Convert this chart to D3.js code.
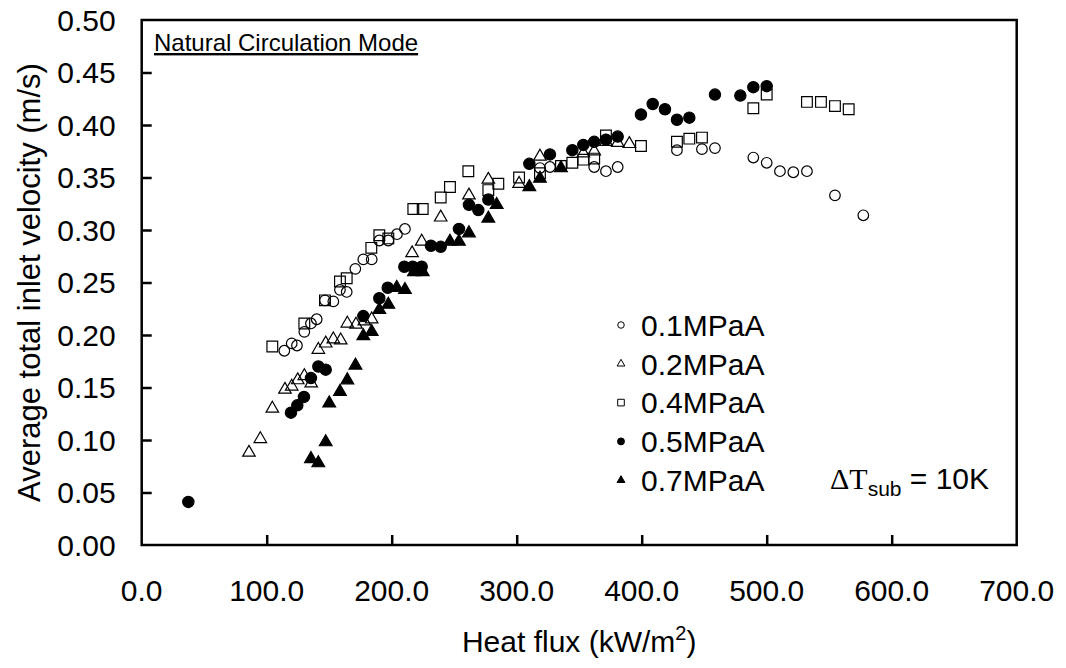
<!DOCTYPE html>
<html>
<head>
<meta charset="utf-8">
<script src="https://cdn.jsdelivr.net/npm/d3@7"></script>
<style>
  body { margin: 0; background: #fff; }
  text { font-family: "Liberation Sans", Arial, sans-serif; }
</style>
</head>
<body>
<div class="chart"></div>
<script>
// data: [heat flux kW/m2, velocity m/s]
let p01 = [[114.1,0.185],[120,0.192],[124.2,0.190],[130.1,0.203],[135.4,0.211],[140,0.215],[146.6,0.233],[153.3,0.232],
  [158.6,0.243],[164,0.241],[170.9,0.263],[177.3,0.272],[184,0.272],[190.1,0.290],[197.3,0.290],[204.2,0.296],[210.6,0.301],
  [318.6,0.359],[326.6,0.360],[362,0.360],[371.4,0.356],[380.8,0.360],[428.2,0.376],[448.2,0.377],[458.6,0.378],
  [489.3,0.369],[500,0.364],[510.6,0.356],[521.3,0.355],[532.2,0.356],[554.6,0.333],[577.3,0.314]]
let p02 = [[85.8,0.088],[94.9,0.101],[104.5,0.130],[114.6,0.148],[120,0.151],[124.8,0.157],[130.1,0.161],[135.6,0.154],
  [141.3,0.186],[147.2,0.192],[153.3,0.196],[159.2,0.195],[164.5,0.211],[171.4,0.210],[178.1,0.213],[184,0.215],
  [216.3,0.278],[224,0.289],[239.2,0.312],[261.8,0.333],[277.3,0.348],[301.9,0.344],[318.6,0.370],[353.3,0.373],
  [362,0.375],[371.4,0.384],[380.8,0.383],[390.1,0.382]]
let p04 = [[104.5,0.189],[130.1,0.211],[146.6,0.233],[158.6,0.251],[164,0.254],[183.7,0.283],[190.1,0.295],[197.3,0.292],
  [217.3,0.320],[224.8,0.320],[239.2,0.331],[246.6,0.341],[261.3,0.356],[277.3,0.338],[285.3,0.344],[301.9,0.350],
  [318.6,0.354],[335.4,0.361],[344.5,0.364],[353.3,0.367],[362,0.368],[371.4,0.390],[399.4,0.380],[428.2,0.384],
  [438.1,0.387],[448.2,0.388],[489.3,0.416],[500,0.429],[532.2,0.422],[543.4,0.422],[554.6,0.418],[565.6,0.415]]
let p05 = [[37.3,0.041],[119.4,0.126],[124.5,0.133],[129.8,0.141],[135.4,0.159],[141.3,0.170],[147.2,0.167],[177.3,0.218],
  [190.1,0.235],[196.8,0.245],[210.1,0.265],[216.8,0.265],[224,0.265],[231.4,0.285],[239.2,0.284],[253.8,0.301],
  [261.8,0.324],[269.3,0.319],[277.3,0.329],[310.1,0.363],[326.6,0.372],[344.5,0.376],[353.3,0.381],[362,0.384],
  [371.4,0.386],[380.8,0.389],[399.4,0.410],[408.8,0.420],[418.6,0.415],[428.2,0.405],[438.1,0.407],[458.6,0.429],
  [478.9,0.428],[489.3,0.436],[500,0.437]]
let p07 = [[135.4,0.082],[141.3,0.078],[147.2,0.098],[150,0.135],[158.6,0.146],[164.5,0.157],[171,0.171],[177.3,0.199],
  [184,0.203],[190.1,0.224],[197.3,0.229],[204,0.245],[210.6,0.243],[217.8,0.260],[224.8,0.260],[246.6,0.289],
  [253.8,0.289],[261.8,0.297],[277.3,0.311],[284,0.324],[310.1,0.341],[318.6,0.349],[335.4,0.359]]

let seriesNames = ["0.1MPaA", "0.2MPaA", "0.4MPaA", "0.5MPaA", "0.7MPaA"]
let xTicks = [0, 100, 200, 300, 400, 500, 600, 700]
let yTicks = [0, 0.05, 0.10, 0.15, 0.20, 0.25, 0.30, 0.35, 0.40, 0.45, 0.50]

let width = 1066
let height = 668
let margin = {left: 141.7, top: 20, right: 49.3, bottom: 123}

let svg = d3.select(".chart")
    .append("svg")
    .attr("width", width)
    .attr("height", height)

let x = d3.scaleLinear().domain([0, 700]).range([margin.left, width - margin.right])
let y = d3.scaleLinear().domain([0, 0.5]).range([height - margin.bottom, margin.top])

// marker styles for each series
let styles = [
    {type: d3.symbolCircle, size: 88, fill: "none"},
    {type: d3.symbolTriangle, size: 68, fill: "none"},
    {type: d3.symbolSquare, size: 115, fill: "none"},
    {type: d3.symbolCircle, size: 100, fill: "#000"},
    {type: d3.symbolTriangle, size: 70, fill: "#000"}
]
let allData = [p01, p02, p04, p05, p07]

// axes, ticks pointing inside
let xAxis = d3.axisTop(x).tickValues(xTicks.slice(1, -1)).tickSize(10).tickFormat("")
let yAxis = d3.axisRight(y).tickValues(yTicks.slice(1, -1)).tickSize(10).tickFormat("")

svg.append("g")
    .attr("transform", "translate(0," + y(0) + ")")
    .call(xAxis)
    .call(g => g.select(".domain").remove())
    .selectAll("line").attr("stroke", "#000").attr("stroke-width", 2.5)

svg.append("g")
    .attr("transform", "translate(" + x(0) + ",0)")
    .call(yAxis)
    .call(g => g.select(".domain").remove())
    .selectAll("line").attr("stroke", "#000").attr("stroke-width", 2.5)

svg.append("rect")
    .attr("x", x(0))
    .attr("y", y(0.5))
    .attr("width", x(700) - x(0))
    .attr("height", y(0) - y(0.5))
    .attr("fill", "none")
    .attr("stroke", "#000")
    .attr("stroke-width", 2.5)

// tick labels
svg.selectAll(".xlab")
    .data(xTicks)
    .enter()
    .append("text")
    .attr("x", d => x(d))
    .attr("y", y(0) + 56)
    .attr("text-anchor", "middle")
    .style("font-size", "30px")
    .text(d => d3.format(".1f")(d))

svg.selectAll(".ylab")
    .data(yTicks)
    .enter()
    .append("text")
    .attr("x", x(0) - 26)
    .attr("y", d => y(d))
    .attr("dy", "0.36em")
    .attr("text-anchor", "end")
    .style("font-size", "30px")
    .text(d => d3.format(".2f")(d))

// axis titles
let xt = svg.append("text")
    .attr("x", (x(0) + x(700)) / 2)
    .attr("y", 652)
    .attr("text-anchor", "middle")
    .style("font-size", "30px")
xt.append("tspan").text("Heat flux (kW/m")
xt.append("tspan").attr("dy", -12).style("font-size", "20px").text("2")
xt.append("tspan").attr("dy", 12).text(")")

svg.append("text")
    .attr("transform", "translate(40," + (y(0) + y(0.5)) / 2 + ") rotate(-90)")
    .attr("text-anchor", "middle")
    .style("font-size", "31px")
    .text("Average total inlet velocity (m/s)")

// note at top left
svg.append("text")
    .attr("x", 154)
    .attr("y", 51)
    .style("font-size", "24px")
    .style("text-decoration", "underline")
    .text("Natural Circulation Mode")

// points
allData.forEach(function (data, i) {
    let st = styles[i]
    svg.append("g")
        .selectAll("path")
        .data(data)
        .enter()
        .append("path")
        .attr("d", d3.symbol().type(st.type).size(st.size))
        .attr("transform", d => "translate(" + x(d[0]) + "," + y(d[1]) + ")")
        .attr("fill", st.fill)
        .attr("stroke", "#000")
        .attr("stroke-width", 1.2)
})

// legend
let legend = svg.append("g")
seriesNames.forEach(function (name, i) {
    let ly = 325 + i * 38.8
    let st = styles[i]
    legend.append("path")
        .attr("d", d3.symbol().type(st.type).size(st.size * 0.38))
        .attr("transform", "translate(621," + ly + ")")
        .attr("fill", st.fill)
        .attr("stroke", "#000")
        .attr("stroke-width", 1)
    legend.append("text")
        .attr("x", 641)
        .attr("y", ly)
        .attr("dy", "0.36em")
        .style("font-size", "30px")
        .text(name)
})

// delta T note
let dt = svg.append("text")
    .attr("x", 830)
    .attr("y", 489)
    .style("font-size", "30px")
dt.append("tspan").style("font-family", "'Liberation Serif', 'Times New Roman', serif").text("\u0394T")
dt.append("tspan").attr("dy", 7).style("font-size", "21px").text("sub")
dt.append("tspan").attr("dy", -7).text(" = 10K")
</script>
</body>
</html>
